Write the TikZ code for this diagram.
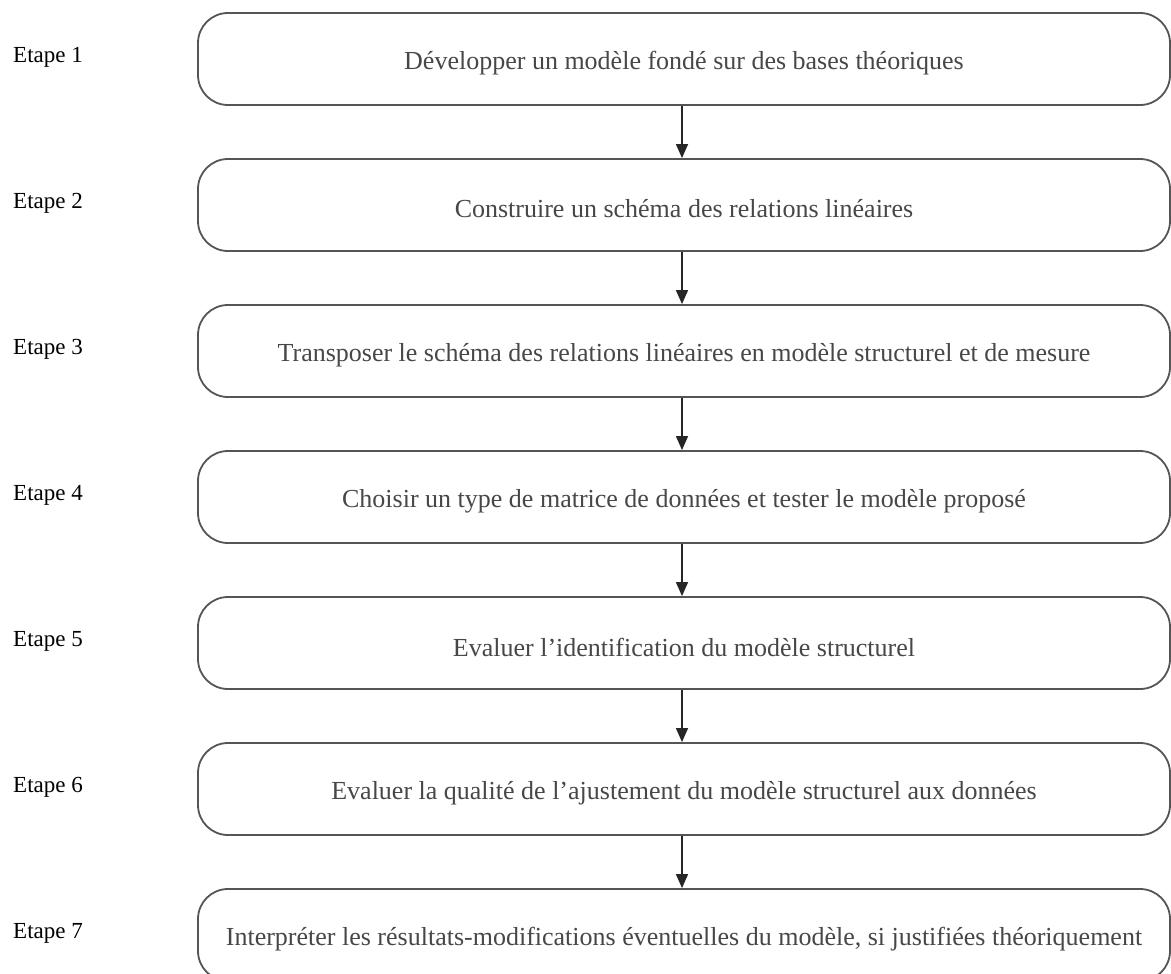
\documentclass[tikz,border=0pt]{standalone}
\usepackage{fontspec}
\setmainfont{Liberation Serif}
\usetikzlibrary{arrows.meta}
\definecolor{boxline}{HTML}{555555}
\definecolor{boxtext}{HTML}{474747}
\tikzset{
  x=1pt, y=1pt,
  stepbox/.style={draw=boxline, line width=1.8pt, rounded corners=30pt,
    minimum width=972pt, minimum height=92pt, inner sep=0pt},
  steptext/.style={inner sep=0pt, text=boxtext,
    font=\fontsize{26}{31}\selectfont},
  steplabel/.style={anchor=west, inner sep=0pt, text=black,
    font=\fontsize{23}{27}\selectfont},
  flow/.style={draw=black!85, line width=1.4pt,
    -{Triangle[width=12pt,length=14pt]}}
}
\begin{document}
\begin{tikzpicture}
\useasboundingbox (0,0) rectangle (1171,-974);
% the seven step boxes, 146pt apart
\foreach \i/\y in {1/59,2/205,3/351,4/497,5/643,6/789,7/935}
  \node[stepbox] (b\i) at (684,-\y) {};
% box captions, sitting slightly below the box centres
\node[steptext] (t1) at ([yshift=-4pt]b1.center) {Développer un modèle fondé sur des bases théoriques};
\node[steptext] (t2) at ([yshift=-4pt]b2.center) {Construire un schéma des relations linéaires};
\node[steptext] (t3) at ([yshift=-4pt]b3.center) {Transposer le schéma des relations linéaires en modèle structurel et de mesure};
\node[steptext] (t4) at ([yshift=-4pt]b4.center) {Choisir un type de matrice de données et tester le modèle proposé};
\node[steptext] (t5) at ([yshift=-4pt]b5.center) {Evaluer l’identification du modèle structurel};
\node[steptext] (t6) at ([yshift=-4pt]b6.center) {Evaluer la qualité de l’ajustement du modèle structurel aux données};
\node[steptext] (t7) at ([yshift=-4pt]b7.center) {Interpréter les résultats-modifications éventuelles du modèle, si justifiées théoriquement};
% step labels on the left
\foreach \i/\y in {1/57,2/203,3/349,4/495,5/641,6/787,7/933}
  \node[steplabel] (l\i) at (13,-\y) {Etape \i};
% arrows between consecutive boxes
\foreach \a/\b in {b1/b2,b2/b3,b3/b4,b4/b5,b5/b6,b6/b7}
  \draw[flow] ([xshift=-2pt]\a.south) -- ([xshift=-2pt]\b.north);
\end{tikzpicture}
\end{document}
